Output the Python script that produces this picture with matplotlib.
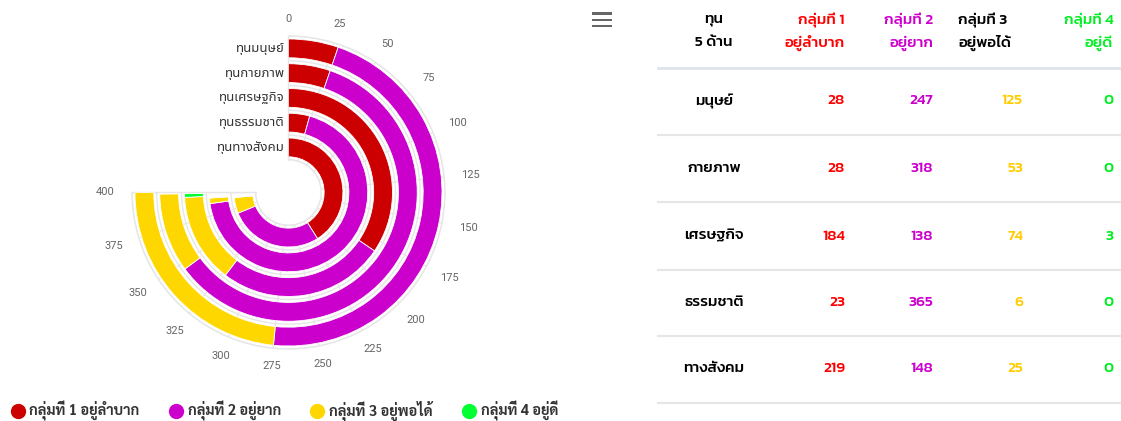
import numpy as np
import matplotlib
matplotlib.use('Agg')
import matplotlib.pyplot as plt
from matplotlib import font_manager as fm
from matplotlib.ft2font import FT2Font
from matplotlib.lines import Line2D
from matplotlib.patches import Rectangle
import matplotlib.transforms as mtransforms

# ---------------- data ----------------
categories = ['ทุนมนุษย์', 'ทุนกายภาพ', 'ทุนเศรษฐกิจ', 'ทุนธรรมชาติ', 'ทุนทางสังคม']
table_rows = ['มนุษย์', 'กายภาพ', 'เศรษฐกิจ', 'ธรรมชาติ', 'ทางสังคม']
series_names = ['กลุ่มที่ 1 อยู่ลำบาก', 'กลุ่มที่ 2 อยู่ยาก', 'กลุ่มที่ 3 อยู่พอได้', 'กลุ่มที่ 4 อยู่ดี']
group1 = [28, 28, 184, 23, 219]
group2 = [247, 318, 138, 365, 148]
group3 = [125, 53, 74, 6, 25]
group4 = [0, 0, 3, 0, 0]
axis_ticks = list(range(0, 401, 25))
axis_max = 400
head_col0 = ['ทุน', '5 ด้าน']
head_cols = [['กลุ่มที่ 1', 'อยู่ลำบาก'], ['กลุ่มที่ 2', 'อยู่ยาก'],
             ['กลุ่มที่ 3', 'อยู่พอได้'], ['กลุ่มที่ 4', 'อยู่ดี']]

# ---------------- fonts ----------------
def find_thai():
    found = set()
    for f in fm.fontManager.ttflist:
        try:
            cm = FT2Font(f.fname).get_charmap()
        except Exception:
            continue
        if 0x0E01 in cm and 0x0E38 in cm and 0x0E49 in cm:
            found.add(f.name)
    return found

thai = find_thai()

def pick(prefs):
    for p in prefs:
        if p in thai:
            return p
    return sorted(thai)[0] if thai else 'DejaVu Sans'

chart_font = pick(['Noto Sans Thai', 'Sarabun', 'IBM Plex Sans Thai'])
legend_font = pick(['Sarabun', 'IBM Plex Sans Thai', 'Noto Sans Thai'])
table_font = pick(['Kanit', 'Prompt', 'Mitr', 'Noto Sans Thai'])
plt.rcParams['font.family'] = [chart_font, 'DejaVu Sans']

W, H = 1121, 421
fig = plt.figure(figsize=(W / 100, H / 100), dpi=100)
fig.patch.set_facecolor('white')

# ---------------- polar stacked bars ----------------
cx, cy, R = 290, 194, 158
ax = fig.add_axes([(cx - R) / W, (H - cy - R) / H, 2 * R / W, 2 * R / H], projection='polar')
ax.set_theta_zero_location('N')
ax.set_theta_direction(-1)
ax.set_thetamin(0)
ax.set_thetamax(270)
scale = 1.5 * np.pi / axis_max
n = len(categories)
ypos = np.arange(n)[::-1].astype(float)
px_per_unit = 25.0
rorig = -0.5 - 33 / px_per_unit
ax.set_ylim(-0.5, n - 0.5)
ax.set_rorigin(rorig)

series = [group1, group2, group3, group4]
colors = ['#CC0000', '#CC00CC', '#FFD700', '#00FF33']
left = np.zeros(n)
thick = 0.76
for vals, col in zip(series, colors):
    vals = np.array(vals, float)
    ax.bar(left * scale, thick, width=vals * scale, bottom=ypos - thick / 2, align='edge',
           color=col, edgecolor='white', linewidth=0.6, zorder=3)
    left += vals

ax.set_xticks(np.array(axis_ticks) * scale)
ax.set_xticklabels([])
ax.set_yticks(np.arange(-0.5, n, 1.0))
ax.set_yticklabels([])
ax.grid(True, color='#e6e6e6', lw=1)
ax.set_axisbelow(True)
for sp in ax.spines.values():
    sp.set_color('#e6e6e6')
    sp.set_linewidth(1)
ax.tick_params(axis='x', length=0)

# angular axis labels, placed just outside the pane
for t in axis_ticks:
    th = t * scale
    r_px = 175 + 10 * abs(np.sin(th))
    ax.text(th, rorig + r_px / px_per_unit, str(t), ha='center', va='center', fontsize=8,
            color='#666666', family=['Roboto', 'DejaVu Sans'], clip_on=False)

off = mtransforms.offset_copy(ax.transData, fig=fig, x=-4, y=0, units='dots')
for cat, y in zip(categories, ypos):
    ax.text(0, y, cat, transform=off, ha='right', va='center', fontsize=9.5, color='#333333', zorder=5)

# legend
handles = [Line2D([], [], marker='o', ls='', color=c, markersize=10) for c in colors]
fig.legend(handles, series_names, loc='center left', bbox_to_anchor=(0.0, 1 - 411 / H), ncol=4,
           frameon=False, handletextpad=0.3, columnspacing=2.0, handlelength=1.0,
           prop={'size': 10.5, 'weight': 'bold', 'family': [legend_font, 'DejaVu Sans']},
           labelcolor='#333333', borderaxespad=0.3)

# menu icon
for yy in [12.5, 18.5, 24.5]:
    fig.add_artist(Rectangle((592 / W, 1 - (yy + 2.7) / H), 20 / W, 2.7 / H,
                             transform=fig.transFigure, color='#666666', lw=0))

# ---------------- table ----------------
def fx(x):
    return x / W

def fy(y):
    return 1 - y / H

tf = [table_font, 'DejaVu Sans']
head_colors = ['#FF0000', '#CC00CC', '#000000', '#00EE22']
val_colors = ['#FF0000', '#CC00CC', '#FFCC00', '#00EE22']
col_right = [845, 933, 1023, 1113]
fs = 11
tw = 'medium'
for k, line in enumerate(head_col0):
    fig.text(fx(714), fy(20 + 23 * k), line, ha='center', va='center', fontsize=fs,
             weight=tw, color='#000000', family=tf)
for c, (lines, colr) in enumerate(zip(head_cols, head_colors)):
    for k, line in enumerate(lines):
        if c == 2:
            fig.text(fx(958), fy(20 + 23 * k), line, ha='left', va='center', fontsize=fs,
                     weight=tw, color=colr, family=tf)
        else:
            fig.text(fx(col_right[c]), fy(20 + 23 * k), line, ha='right', va='center', fontsize=fs,
                     weight=tw, color=colr, family=tf)

fig.add_artist(Line2D([fx(658), 1], [fy(68), fy(68)], color='#e0e4ea', lw=2, transform=fig.transFigure))
row_y = [101, 168, 236, 302, 369]
cols = [group1, group2, group3, group4]
for i, (name, yv) in enumerate(zip(table_rows, row_y)):
    fig.text(fx(714), fy(yv), name, ha='center', va='center', fontsize=fs, weight=tw,
             color='#000000', family=tf)
    for c in range(4):
        fig.text(fx(col_right[c]), fy(yv), str(cols[c][i]), ha='right', va='center', fontsize=fs,
                 weight=tw, color=val_colors[c], family=tf)
    fig.add_artist(Line2D([fx(658), 1], [fy(yv + 34), fy(yv + 34)], color='#e6e6e6', lw=1.5,
                          transform=fig.transFigure))

fig.savefig('out.png', dpi=100, facecolor='white')
